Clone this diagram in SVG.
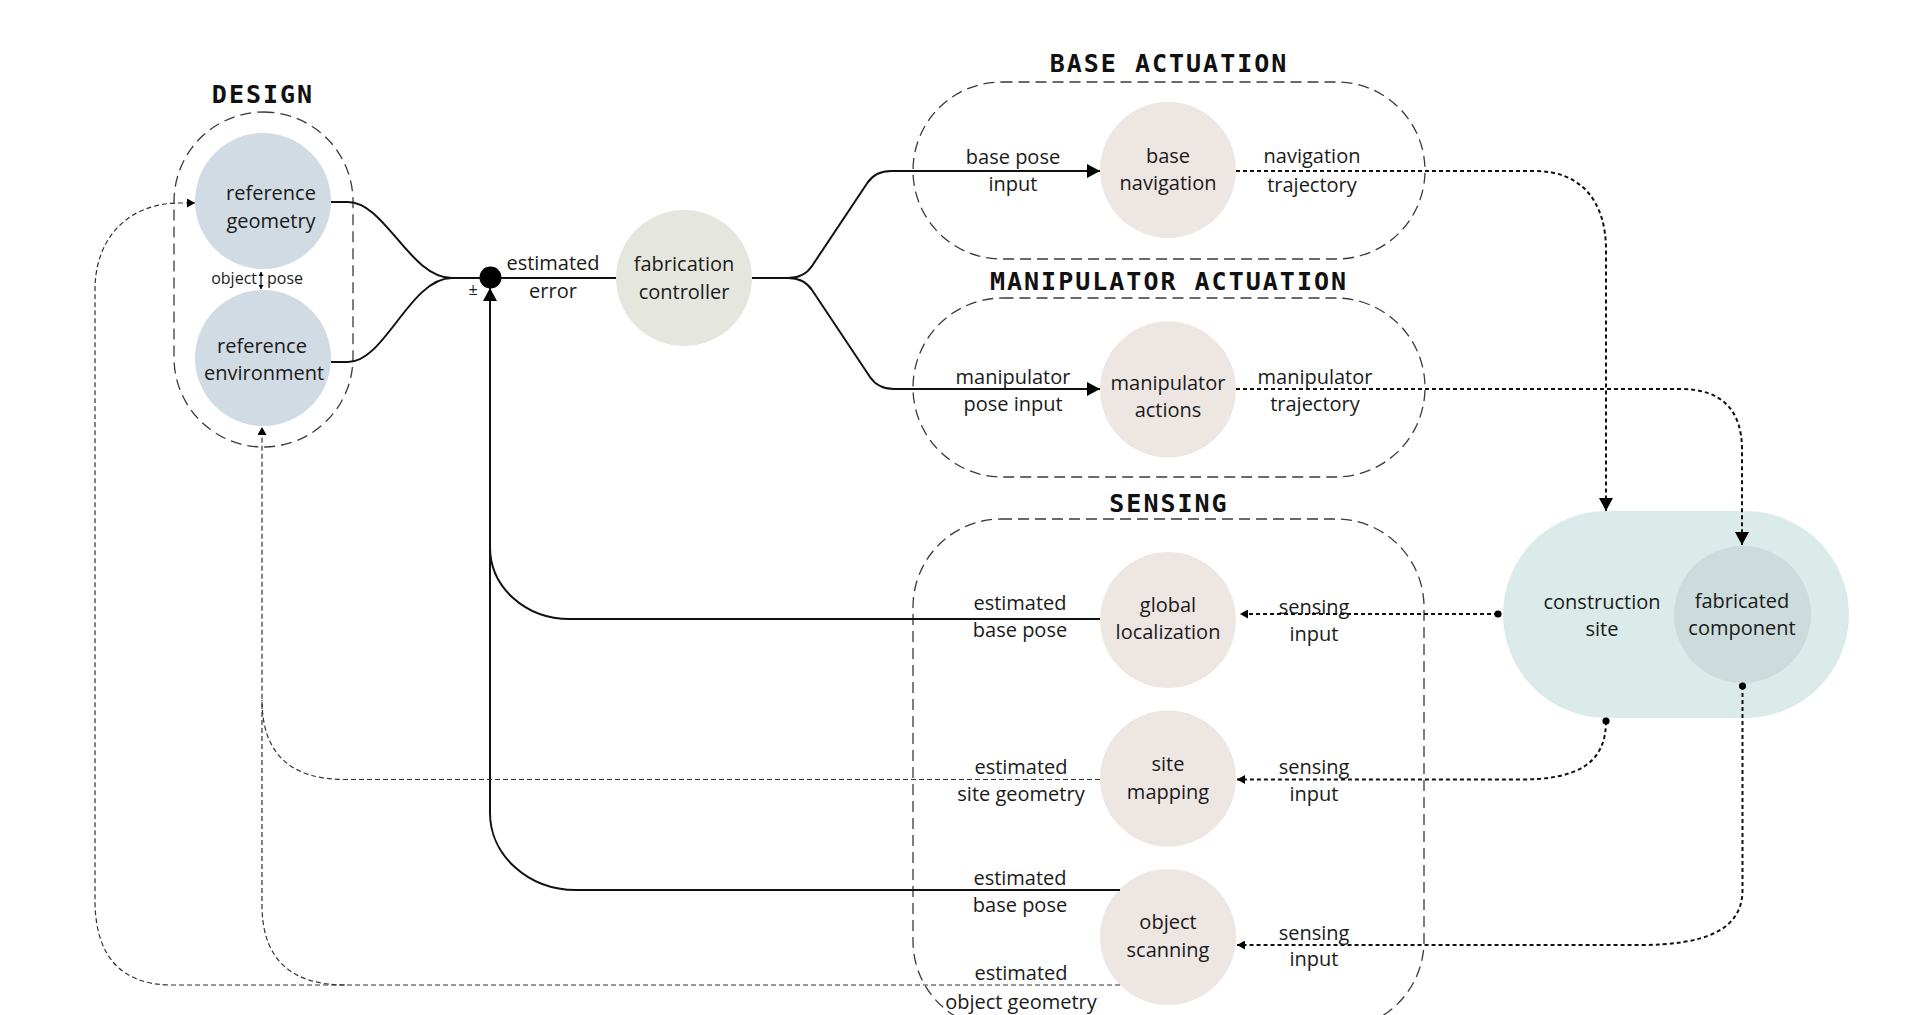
<svg xmlns="http://www.w3.org/2000/svg" width="1909" height="1015" viewBox="0 0 1909 1015">
<style>
.grp{fill:none;stroke:#3a3a3a;stroke-width:1.3;stroke-dasharray:11 6}
.title{font-family:"DejaVu Sans Mono","Liberation Mono",monospace;font-weight:bold;font-size:25px;letter-spacing:2px;fill:#111;text-anchor:middle}
.lbl{font-family:"Open Sans","Noto Sans","Liberation Sans",sans-serif;font-size:20px;fill:#1a1a1a;text-anchor:middle}
.sm{font-family:"Open Sans","Noto Sans","Liberation Sans",sans-serif;font-size:16px;fill:#1a1a1a}
.solid{fill:none;stroke:#111;stroke-width:2}
.dot{fill:none;stroke:#111;stroke-width:2;stroke-dasharray:4 3}
.thin{fill:none;stroke:#333;stroke-width:1.2;stroke-dasharray:5 3}
.ref{fill:#d1dbe3}
.pink{fill:#eee6e3}
.ctrl{fill:#e5e7df}
</style>
<defs>
<marker id="aL" markerUnits="userSpaceOnUse" viewBox="0 0 13 14" refX="13" refY="7" markerWidth="13" markerHeight="14" orient="auto"><path d="M0,0 L13,7 L0,14 z" fill="#000"/></marker>
<marker id="aS" markerUnits="userSpaceOnUse" viewBox="0 0 8 9" refX="8" refY="4.5" markerWidth="8" markerHeight="9" orient="auto"><path d="M0,0 L8,4.5 L0,9 z" fill="#000"/></marker>
<marker id="aT" markerUnits="userSpaceOnUse" viewBox="0 0 4 5" refX="4" refY="2.5" markerWidth="4" markerHeight="5" orient="auto-start-reverse"><path d="M0,0 L4,2.5 L0,5 z" fill="#000"/></marker>
<marker id="dS" markerUnits="userSpaceOnUse" viewBox="0 0 8 8" refX="4" refY="4" markerWidth="8" markerHeight="8"><circle cx="4" cy="4" r="3.6" fill="#000"/></marker>
</defs>

<g id="group-design">
<rect class="grp" x="174" y="112" width="179" height="335" rx="89.5"/>
<text class="title" x="263" y="103">DESIGN</text>
</g>
<g id="group-base-actuation">
<rect class="grp" x="913" y="82" width="512" height="177" rx="88.5"/>
<text class="title" x="1169" y="72">BASE ACTUATION</text>
</g>
<g id="group-manipulator-actuation">
<rect class="grp" x="913" y="298" width="512" height="179" rx="89.5"/>
<text class="title" x="1169" y="290">MANIPULATOR ACTUATION</text>
</g>
<g id="group-sensing">
<rect class="grp" x="913" y="519" width="511" height="510" rx="88"/>
<text class="title" x="1169" y="512">SENSING</text>
</g>

<g id="node-reference-geometry">
<circle class="ref" cx="263" cy="201" r="68"/>
<text class="lbl" x="271" y="200">reference</text>
<text class="lbl" x="271" y="228">geometry</text>
</g>
<g id="node-reference-environment">
<circle class="ref" cx="263" cy="358" r="68"/>
<text class="lbl" x="262" y="353">reference</text>
<text class="lbl" x="264" y="380">environment</text>
</g>
<g id="node-junction">
<circle cx="490.5" cy="277.5" r="11" fill="#000"/>
<text class="sm" x="473" y="295" font-size="12" text-anchor="middle">±</text>
</g>
<g id="node-fabrication-controller">
<circle class="ctrl" cx="684" cy="278" r="68"/>
<text class="lbl" x="684" y="271">fabrication</text>
<text class="lbl" x="684" y="299">controller</text>
</g>
<g id="node-base-navigation">
<circle class="pink" cx="1168" cy="170" r="68"/>
<text class="lbl" x="1168" y="163">base</text>
<text class="lbl" x="1168" y="190">navigation</text>
</g>
<g id="node-manipulator-actions">
<circle class="pink" cx="1168" cy="389.5" r="68"/>
<text class="lbl" x="1168" y="390">manipulator</text>
<text class="lbl" x="1168" y="417">actions</text>
</g>
<g id="node-global-localization">
<circle class="pink" cx="1168" cy="620" r="68"/>
<text class="lbl" x="1168" y="612">global</text>
<text class="lbl" x="1168" y="639">localization</text>
</g>
<g id="node-site-mapping">
<circle class="pink" cx="1168" cy="778.5" r="68"/>
<text class="lbl" x="1168" y="771">site</text>
<text class="lbl" x="1168" y="799">mapping</text>
</g>
<g id="node-object-scanning">
<circle class="pink" cx="1168" cy="937" r="68"/>
<text class="lbl" x="1168" y="929">object</text>
<text class="lbl" x="1168" y="957">scanning</text>
</g>
<g id="node-construction-site">
<rect x="1503" y="511" width="346" height="207" rx="103.5" fill="#dbebea"/>
<text class="lbl" x="1602" y="609">construction</text>
<text class="lbl" x="1602" y="636">site</text>
</g>
<g id="node-fabricated-component">
<circle cx="1742.5" cy="614.5" r="68.5" fill="#ccdbdb"/>
<text class="lbl" x="1742" y="608">fabricated</text>
<text class="lbl" x="1742" y="635">component</text>
</g>

<g id="connectors">
<path class="solid" d="M331,202 L348,202 C385,202 410,278 452,278 L481,278"/>
<path class="solid" d="M331,362 L348,362 C385,362 410,278 452,278"/>
<path class="solid" d="M500,278 L616,278"/>
<path class="solid" d="M752,278 L788,278 Q804,278 812,266 L867.3,183 Q875.3,171 891.3,171 L1100,171" marker-end="url(#aL)"/>
<path class="solid" d="M788,278 Q804,278 812,290 L870,377 Q878,389 894,389 L1100,389" marker-end="url(#aL)"/>
<path class="dot" d="M1236,171 L1535,171 C1580,171 1606,200 1606,250 L1606,511" marker-end="url(#aL)"/>
<path class="dot" d="M1236,389 L1680,389 C1722,389 1742,410 1742,450 L1742,545" marker-end="url(#aL)"/>
<path class="dot" d="M1498,614 L1240,614" marker-start="url(#dS)" marker-end="url(#aS)"/>
<path class="dot" d="M1606,721 C1606,765 1575,779.5 1520,779.5 L1237,779.5" marker-start="url(#dS)" marker-end="url(#aS)"/>
<path class="dot" d="M1742.5,686 L1742.5,890 C1742.5,930 1705,945 1640,945 L1237,945" marker-start="url(#dS)" marker-end="url(#aS)"/>
<path class="solid" d="M1100,619 L570,619 C525,619 490,587 490,547"/>
<path class="solid" d="M1120,890 L576,890 C528,890 490,855 490,813 L490,288" marker-end="url(#aL)"/>
<path class="thin" d="M1100,779.5 L345,779.5 C292,779.5 262,755 262,700 L262,427" marker-end="url(#aS)"/>
<path class="thin" d="M345,985 C292,985 262,960 262,905 L262,700"/>
<path class="thin" d="M1120,985 L172,985 C120,985 95,955 95,900 L95,290 C95,238 128,203 180,203 L195,203" marker-end="url(#aS)"/>
<path fill="none" stroke="#111" stroke-width="1.2" d="M261,272 L261,289" marker-start="url(#aT)" marker-end="url(#aT)"/>
</g>

<g id="labels">
<text class="sm" x="257" y="284" text-anchor="end">object</text>
<text class="sm" x="267" y="284">pose</text>
<text class="lbl" x="553" y="270">estimated</text>
<text class="lbl" x="553" y="298">error</text>
<text class="lbl" x="1013" y="164">base pose</text>
<text class="lbl" x="1013" y="191">input</text>
<text class="lbl" x="1312" y="163">navigation</text>
<text class="lbl" x="1312" y="192">trajectory</text>
<text class="lbl" x="1013" y="384">manipulator</text>
<text class="lbl" x="1013" y="411">pose input</text>
<text class="lbl" x="1315" y="384">manipulator</text>
<text class="lbl" x="1315" y="411">trajectory</text>
<text class="lbl" x="1020" y="610">estimated</text>
<text class="lbl" x="1020" y="637">base pose</text>
<text class="lbl" x="1314" y="614">sensing</text>
<text class="lbl" x="1314" y="641">input</text>
<text class="lbl" x="1021" y="774">estimated</text>
<text class="lbl" x="1021" y="801">site geometry</text>
<text class="lbl" x="1314" y="774">sensing</text>
<text class="lbl" x="1314" y="801">input</text>
<text class="lbl" x="1020" y="885">estimated</text>
<text class="lbl" x="1020" y="912">base pose</text>
<text class="lbl" x="1314" y="940">sensing</text>
<text class="lbl" x="1314" y="966">input</text>
<text class="lbl" x="1021" y="980">estimated</text>
<text class="lbl" x="1021" y="1009">object geometry</text>
</g>
</svg>
